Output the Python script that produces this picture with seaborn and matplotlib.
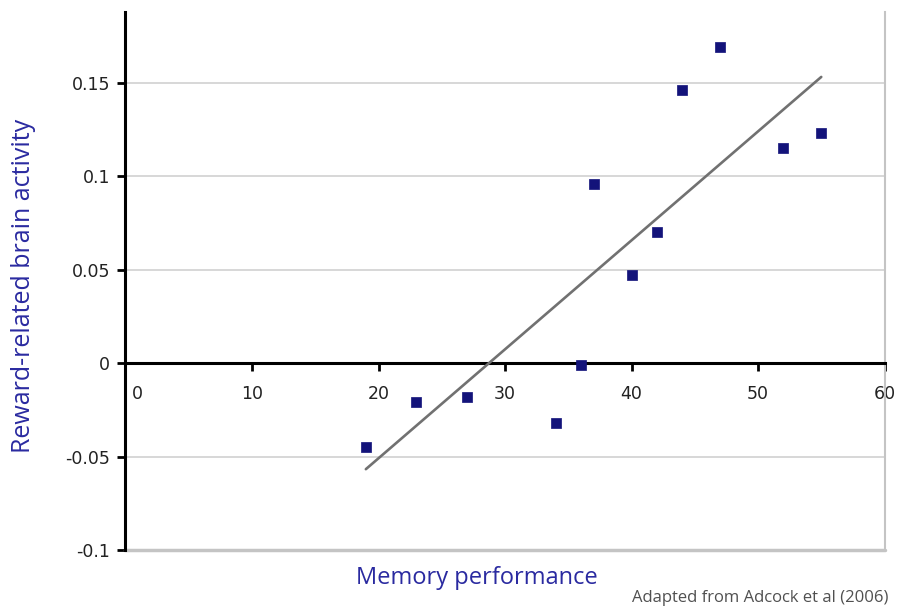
import matplotlib
matplotlib.use("Agg")
import matplotlib.pyplot as plt
import matplotlib.transforms as mtransforms
import seaborn as sns
import pandas as pd

memory_performance = [19, 23, 27, 34, 36, 37, 40, 42, 44, 47, 52, 55]
brain_activity = [-0.045, -0.021, -0.018, -0.032, -0.001, 0.096, 0.047, 0.070, 0.146, 0.169, 0.115, 0.123]
x_ticks = [0, 10, 20, 30, 40, 50, 60]
y_ticks = [-0.1, -0.05, 0, 0.05, 0.1, 0.15]
y_tick_labels = ["-0.1", "-0.05", "0", "0.05", "0.1", "0.15"]

df = pd.DataFrame({"Memory performance": memory_performance,
                   "Reward-related brain activity": brain_activity})

sns.set_style("white")
plt.rcParams["font.family"] = ["DejaVu Sans"]

fig = plt.figure(figsize=(8.99, 6.12), dpi=100)
ax = fig.add_axes([125.5 / 899, 1 - 550 / 612, 759 / 899, 538 / 612])

sns.regplot(data=df, x="Memory performance", y="Reward-related brain activity",
            ci=None, truncate=True, ax=ax, marker="s",
            scatter_kws=dict(s=52, color="#13137a", edgecolors="#13137a",
                             linewidths=0.5, zorder=4, alpha=1),
            line_kws=dict(color="#717171", linewidth=1.9, zorder=3))

ax.set_xlim(0, 60)
ax.set_ylim(-0.1, 0.188)
ax.set_xticks(x_ticks)
ax.set_yticks(y_ticks)
ax.set_yticklabels(y_tick_labels)

ax.grid(axis="y", color="#d4d4d4", linewidth=1.3, zorder=0)
ax.grid(axis="x", visible=False)
ax.set_axisbelow(True)

ax.spines["top"].set_visible(False)
ax.spines["right"].set_color("#c4c4c4")
ax.spines["right"].set_linewidth(1.5)
ax.spines["left"].set_color("black")
ax.spines["left"].set_linewidth(2.2)
ax.spines["bottom"].set_position(("data", 0))
ax.spines["bottom"].set_color("black")
ax.spines["bottom"].set_linewidth(2.2)
ax.spines["bottom"].set_zorder(2.5)
ax.axhline(-0.1, color="#c4c4c4", linewidth=2.5, zorder=1, clip_on=False)

ax.tick_params(axis="y", direction="out", length=6, width=2, color="black",
               labelsize=12.5, labelcolor="#222222", pad=5, left=True)
ax.tick_params(axis="x", direction="out", length=6, width=2, color="black",
               labelsize=12.5, labelcolor="#222222", pad=10, bottom=True)
lbls = ax.get_xticklabels()
lbls[0].set_horizontalalignment("left")
lbls[0].set_transform(lbls[0].get_transform() +
                      mtransforms.ScaledTranslation(6 / 100, 0, fig.dpi_scale_trans))

ax.set_xlabel("Memory performance", fontsize=17, color="#2a2aa0",
              family=["Open Sans", "DejaVu Sans"])
ax.set_ylabel("Reward-related brain activity", fontsize=18, color="#2a2aa0",
              family=["Open Sans", "DejaVu Sans"])
ax.xaxis.set_label_coords(0.463, -0.03)
ax.yaxis.set_label_coords(-0.118, 0.49)

fig.text(888 / 899, 1 - 598 / 612, "Adapted from Adcock et al (2006)", ha="right",
         va="center", fontsize=12, color="#505050", family=["Open Sans", "DejaVu Sans"])

fig.savefig("out.png", dpi=100, facecolor="white")
